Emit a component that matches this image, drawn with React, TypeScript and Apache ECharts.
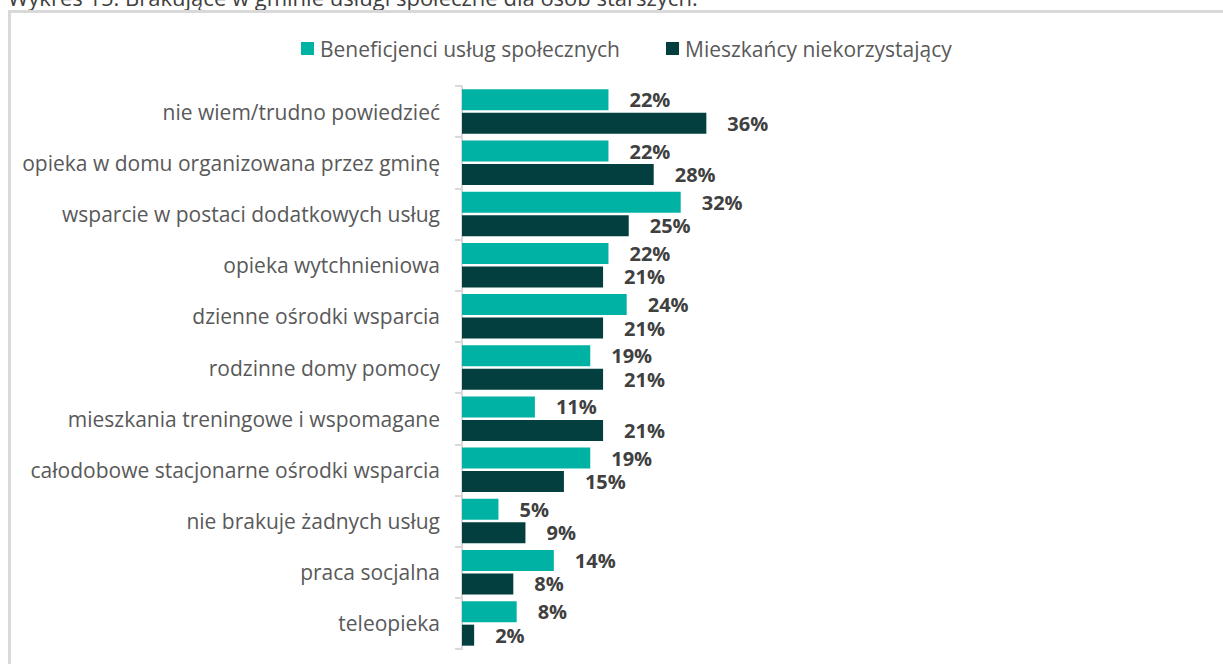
import React, { useEffect, useRef } from "react";
import * as echarts from "echarts";

const title = "Wykres 15. Brakujące w gminie usługi społeczne dla osób starszych.";
const seriesNames = ["Beneficjenci usług społecznych", "Mieszkańcy niekorzystający"];
const categories = [
  "nie wiem/trudno powiedzieć",
  "opieka w domu organizowana przez gminę",
  "wsparcie w postaci dodatkowych usług",
  "opieka wytchnieniowa",
  "dzienne ośrodki wsparcia",
  "rodzinne domy pomocy",
  "mieszkania treningowe i wspomagane",
  "całodobowe stacjonarne ośrodki wsparcia",
  "nie brakuje żadnych usług",
  "praca socjalna",
  "teleopieka",
];
const beneficjenci = [21.7, 21.7, 32.4, 21.7, 24.4, 19.0, 10.8, 19.0, 5.4, 13.6, 8.1];
const mieszkancy = [36.2, 28.4, 24.7, 20.9, 20.9, 20.9, 20.9, 15.1, 9.4, 7.6, 1.8];

const FONT = "'Open Sans', sans-serif";

export default function App() {
  const ref = useRef<HTMLDivElement>(null);
  useEffect(() => {
    if (!ref.current) return;
    const chart = echarts.init(ref.current, undefined, { renderer: "svg" });
    const labelCfg = {
      show: true,
      position: "right" as const,
      distance: 21,
      formatter: (p: any) => Math.round(p.value) + "%",
      fontFamily: FONT,
      fontWeight: "bold" as const,
      fontSize: 20,
      lineHeight: 18,
      color: "#404040",
    };
    chart.setOption({
      animation: false,
      backgroundColor: "#ffffff",
      graphic: [
        {
          type: "text",
          left: 8,
          top: -14,
          style: { text: title, font: `22px ${FONT}`, fill: "#404040" },
        },
        {
          type: "rect",
          shape: { x: 9.5, y: 11.5, width: 1400, height: 800 },
          style: { fill: "none", stroke: "#d9d9d9", lineWidth: 3 },
          silent: true,
        },
      ],
      legend: {
        top: 33,
        left: 296,
        itemWidth: 13,
        itemHeight: 13,
        itemGap: 46,
        icon: "rect",
        textStyle: { fontFamily: FONT, fontSize: 21, color: "#595959", padding: [0, 0, 0, 1] },
        data: seriesNames,
      },
      grid: { left: 462, top: 86, width: 270, bottom: 15, containLabel: false },
      xAxis: { type: "value", min: 0, max: 40, show: false },
      yAxis: {
        type: "category",
        inverse: true,
        data: categories,
        axisLine: { show: true, lineStyle: { color: "#d9d9d9", width: 2 } },
        axisTick: { show: true, length: 7, lineStyle: { color: "#d9d9d9", width: 2 } },
        axisLabel: { margin: 22, fontFamily: FONT, fontSize: 21, color: "#595959" },
        splitLine: { show: false },
      },
      series: [
        {
          name: seriesNames[0],
          type: "bar",
          data: beneficjenci,
          barWidth: 21,
          barGap: "12%",
          itemStyle: { color: "#00b2a3" },
          label: labelCfg,
        },
        {
          name: seriesNames[1],
          type: "bar",
          data: mieszkancy,
          barWidth: 21,
          barGap: "12%",
          itemStyle: { color: "#033f3f" },
          label: labelCfg,
        },
      ],
    });
    return () => chart.dispose();
  }, []);
  return (
    <div
      ref={ref}
      style={{ position: "fixed", left: 0, top: 0, width: 1223, height: 664 }}
    />
  );
}
